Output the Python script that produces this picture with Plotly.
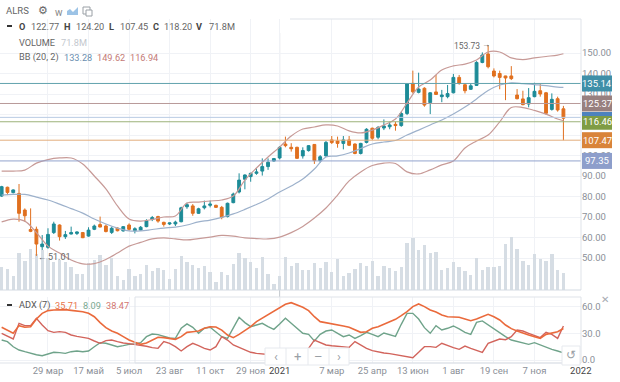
import pandas as pd
import plotly.graph_objects as go

W, H = 620, 382

opens = [80.2,84.5,81.9,81.5,73.4,63.9,64,55.5,55.2,62.4,66.1,60.4,61.7,62.0,62.4,60.7,64,66.3,65.6,62.5,64.6,63.2,66.1,63.3,63.6,65.3,68.9,70.2,67.4,66.6,66.6,67.7,75,75.4,71.8,74.5,75.7,75.7,74.7,70.2,77,82.2,88.4,89.7,91.3,92.4,94.6,97.3,98.8,105.6,104,104,99.8,102.4,105.4,97.5,99.8,107.6,107.1,105.9,107.6,105.6,101,106.4,113.3,108.9,113.4,114,115.2,114.6,120.5,135.2,130.8,132.8,125.8,131,128.7,128.7,130.6,138.1,134.5,132.3,134.2,145.4,149.5,141.2,140,138.8,138.8,129.5,127.6,125.1,128.7,131.6,130.6,122.5,127.7,122.77]
highs = [85.2,84.8,83.5,86.1,74.2,74.2,65.3,61.2,64.5,67.7,66.4,63.2,65.3,63,62.7,65,66.3,70.2,66.3,65.3,65,65.6,66.9,65,65.6,68.9,70.5,70.6,67.7,67.2,68.2,75,77,76.3,74.5,78,78,76,75.4,77,81.9,91.3,90.8,91.6,93.7,98.6,98.6,98.8,104.6,109.2,106,104.3,104,105.1,105.6,100.2,107.1,109.5,109.2,109.5,109.5,105.9,106.2,113.3,113.6,114.4,117.6,116.5,116.5,121.4,135.2,141.4,140.4,133.3,130.9,139.3,132,134.4,139.8,139.3,135.2,135.2,146,150.3,153.73,142.5,141.4,138.9,143.6,132.4,131.6,132.9,135.5,135.2,131,130.3,128.7,124.2]
lows = [79.8,80.7,81.5,67.7,67.7,62.6,51.01,53.9,54.5,61.7,58.5,59.3,61.5,61.2,59.7,60.4,63.6,65,62.5,61.7,63,62.9,63.3,62,63.3,65,68,67.2,65.3,66.1,65.6,67.4,74,70.6,71.5,73.7,74.7,74.4,68.9,69.8,76.7,81.5,83.5,87.2,90.6,90.2,93,97,98.1,104,101.9,98.5,98.5,101.9,95.9,96.5,99.4,105.6,103.8,103,104.6,100.6,100.5,105.9,107.6,107.9,112.4,112.8,112.1,114,119.7,130.3,130.3,123.8,120.2,129.5,126,127.9,130.3,134.5,130.3,132,133.9,145,142.5,138.1,132.3,127,136.8,127.4,124.5,123.5,128.4,128.7,119.9,121.9,121.4,107.45]
closes = [84.8,82.0,83.2,71.8,70.6,63.0,56.8,56.8,61.5,66.6,60.4,61.4,62.4,62.7,59.9,63.6,65.6,65.1,62.9,64.5,63.3,65.3,64,64.3,65,68.2,69.7,68,66.4,67.1,67.5,74.5,76,71.8,74,75.4,76.3,74.7,69.8,76.7,81.2,88,90.5,91.3,92,94.6,96.7,98.5,104,104.8,103.3,98.6,102.4,104.8,97.5,99.4,106.4,106.3,105.9,107.6,105,101,105.9,112.8,108.4,113.7,114.4,114.9,114.6,120.5,134.9,131.1,132.4,124.6,130.6,129.8,129.5,130.2,138.1,135.2,131.6,134,145.4,149,143.3,138.8,138.1,137.8,137.5,127.7,124.8,128.2,131.3,130,120.6,127.4,122.2,118.2]
volumes = [99,89,59,158,123,175,152,169,134,117,127,117,96,70,68,113,127,148,106,134,61,42,89,61,68,106,80,92,83,45,90,144,117,107,94,103,75,35,76,63,111,155,135,117,93,141,68,25,59,141,102,116,85,85,114,94,117,76,130,61,71,90,114,102,124,61,100,93,79,96,200,219,169,190,158,161,86,93,117,96,80,62,137,86,99,99,103,195,226,173,124,104,151,133,125,152,86,71.8]

bb_weeks = list(range(0, 98, 2)) + [97]
bb_upper = [92.4,92.4,92.9,96.3,98.0,98.8,98.8,95.9,90.0,83.7,75.4,69.0,68.0,68.8,70.0,70.5,76.8,77.3,77.8,78.3,80.2,88.0,93.9,99.3,104.1,109.5,112.9,113.9,114.9,114.4,112.0,111.0,112.4,114.9,117.8,125.6,133.4,136.8,141.7,143.7,144.6,146.6,150.5,150.5,147.6,146.8,147.6,148.3,149.0,149.62]
bb_middle = [80.7,81.0,81.0,79.7,78.3,76.3,74.1,71.9,69.0,66.6,64.6,63.2,63.2,63.9,64.6,65.1,66.1,67.6,68.5,69.8,71.5,73.7,76.1,78.8,82.2,85.1,88.5,93.4,99.3,99.8,101.2,103.4,105.6,106.6,107.3,110.0,112.4,114.9,117.3,120.2,123.6,127.6,131.7,134.4,135.4,135.1,134.6,134.1,133.4,133.28]
bb_lower = [67.6,69.0,68.0,62.4,55.8,52.4,49.0,47.1,47.3,49.3,52.4,55.8,57.6,59.3,59.8,59.3,58.8,59.5,60.2,61.0,60.7,59.8,59.5,59.3,60.2,62.4,65.4,69.5,74.4,80.7,87.6,92.0,95.1,96.3,96.1,92.0,91.0,93.0,95.4,97.3,103.7,107.1,110.0,116.4,123.4,123.4,122.0,120.2,117.8,116.94]

adx_line = [37,34,30.2,38.9,37,37.7,46.4,52.8,55.9,56.6,57,57,56.2,55.5,54.7,52.8,49,42.3,36.6,32.8,30.2,26.4,22.6,20,17.7,19.2,22.6,25.7,25.3,24.5,23.4,26.4,31.3,32,32.8,35.9,37.7,37.4,33.9,28.3,25.3,29,33.6,37.7,43.4,47.2,51,54.7,58.5,63,64.9,62.3,59.6,55.9,49,43.4,42.3,41.5,39.6,38.5,37,34,31.3,32,35.9,37.7,40.4,43,46,50.2,54.7,60.4,63.4,60.4,56.6,54.3,51,49,48.7,48.3,46.4,44.5,46.4,49,51.7,49,45.3,39.6,35.5,32.8,30.2,28.3,26.4,24.5,29,30.5,32,35.71]
di_plus = [22.6,20.8,15,11.3,9.4,7.5,6,4.9,6.8,8.7,8.3,7.5,9.4,10.2,9.4,10.2,15,19.6,18.9,17,15,16.2,17.7,18.1,19.6,26.4,29.4,28.7,26.4,24.9,24.5,35.9,40.8,37,30.2,35.9,37,32.1,26.4,24.5,35.9,48.3,42.3,37.7,39.6,41.5,37.7,34.7,40.8,47.2,41.5,35.9,30.2,29,21.5,29,32.8,34,30.2,26.4,28.3,24.5,27.5,31.3,29,26.4,30.6,28.3,26.8,40.4,52.8,52.8,46.4,36.6,30.2,38.9,34,35.9,38.5,35.1,31.3,29,42.6,44.2,39.6,34.7,30.9,26.4,22.6,20.8,18.9,17.7,19.6,17,14.3,12,10.2,8.09]
di_minus = [30.2,26.8,23.8,41.5,38.9,38.9,47.2,39.6,33.2,31.3,32.1,31.3,28.3,26.8,26,24.5,21.5,18.9,21.9,22.6,20.8,19.2,18.5,17.7,17,15.5,14,13.2,20.8,18.9,15.1,10.2,15.1,18.9,16.2,13.2,11.3,15.1,26.4,22.6,17,14,11.3,8.7,7.5,6.8,6.4,5.6,6.4,7.5,6.4,4.9,5.6,13.2,22.6,19.6,17,16.2,15.5,15.1,14.3,20.8,17,13.2,10.6,9,7.9,7.2,6,4.9,3.8,2.6,8.7,15.1,15.1,14.3,18.9,16.2,14,12.1,15.8,13.2,11.3,8.7,18.9,21.5,23.8,23,26.4,34,32.8,30.2,27.5,25.3,31.3,29,24.5,38.47]

price_levels = [135.14, 125.37, 118.6, 116.46, 107.47, 97.35]
level_colors = ["#62a3ad", "#b99a99", "#b9cbe4", "#9db27a", "#e3ad7c", "#93a3cd"]
tag_values = [135.14, 125.37, 116.46, 107.47, 97.35]
tag_colors = ["#3f8fa8", "#98807f", "#7f9c45", "#d9843a", "#8d9ecb"]

date_ticks = ["2020-03-29","2020-05-17","2020-07-05","2020-08-23","2020-10-11","2020-11-29","2021-01-03","2021-03-07","2021-04-25","2021-06-13","2021-08-01","2021-09-19","2021-11-07","2022-01-02"]
date_labels = ["29 мар","17 май","5 июл","23 авг","11 окт","29 ноя","<span style='color:#444'>2021</span>","7 мар","25 апр","13 июн","1 авг","19 сен","7 ноя","<span style='color:#444'>2022</span>"]
price_ticks = [50,60,70,80,90,100,110,120,130,140,150]
price_labels = ["50.00","60.00","70.00","80.00","90.00","100.00","","","130.00","140.00","150.00"]
adx_ticks = [0,30,60]

weeks = pd.date_range("2020-02-02", periods=len(closes), freq="7D")
bb_dates = [weeks[i] for i in bb_weeks]

GRID = "#f0f2f6"
FRAME = "#dfe3e9"
TICK = "#8b9098"
TEAL = "#1d8b97"
ORANGE = "#e0701f"

fig = go.Figure()
fig.add_trace(go.Bar(x=weeks, y=volumes, yaxis="y3", marker=dict(color="#d6dde4", line=dict(width=0)),
                     width=7*24*3600*1000*0.58, showlegend=False, hoverinfo="skip"))
fig.add_trace(go.Scatter(x=bb_dates, y=bb_upper, yaxis="y", mode="lines", line=dict(color="#c79a97", width=1.2, shape="spline"), showlegend=False))
fig.add_trace(go.Scatter(x=bb_dates, y=bb_lower, yaxis="y", mode="lines", line=dict(color="#c79a97", width=1.2, shape="spline"), showlegend=False))
fig.add_trace(go.Scatter(x=bb_dates, y=bb_middle, yaxis="y", mode="lines", line=dict(color="#9db1cb", width=1.2, shape="spline"), showlegend=False))
fig.add_trace(go.Candlestick(x=weeks, open=opens, high=highs, low=lows, close=closes, yaxis="y", whiskerwidth=0,
                             increasing=dict(line=dict(color=TEAL, width=1), fillcolor=TEAL),
                             decreasing=dict(line=dict(color=ORANGE, width=1), fillcolor=ORANGE),
                             showlegend=False))
fig.add_trace(go.Scatter(x=weeks, y=di_plus, yaxis="y2", mode="lines", line=dict(color="#6fa38a", width=1.4), showlegend=False))
fig.add_trace(go.Scatter(x=weeks, y=di_minus, yaxis="y2", mode="lines", line=dict(color="#d2645c", width=1.4), showlegend=False))
fig.add_trace(go.Scatter(x=weeks, y=adx_line, yaxis="y2", mode="lines", line=dict(color="#ea6a3c", width=1.6), showlegend=False))


def fx(px):
    return px / W


def fy(py):
    return 1 - py / H


def note(px, py, text, size=9.5, color="#555", anchor="left", bg=None):
    fig.add_annotation(xref="paper", yref="paper", x=fx(px), y=fy(py), text=text, showarrow=False,
                       xanchor=anchor, yanchor="middle", font=dict(family="Roboto, Open Sans, sans-serif", size=size, color=color),
                       bgcolor=bg, borderpad=0)


def rect(x0, y0, x1, y1, fill="white", line="#e6e9ee", lw=1):
    fig.add_shape(type="rect", xref="paper", yref="paper", x0=fx(x0), x1=fx(x1), y0=fy(y1), y1=fy(y0),
                  fillcolor=fill, line=dict(color=line, width=lw), layer="above")


# price levels across the main pane
for v, c in zip(price_levels, level_colors):
    fig.add_shape(type="line", xref="paper", yref="y", x0=0, x1=fx(581), y0=v, y1=v, line=dict(color=c, width=1), layer="above")

# the year divider
fig.add_shape(type="line", xref="x", yref="paper", x0=date_ticks[6], x1=date_ticks[6], y0=fy(363), y1=fy(33),
              line=dict(color="#c3c8ce", width=1), layer="below")

# frames
fig.add_shape(type="line", xref="paper", yref="paper", x0=fx(290), x1=fx(581), y0=fy(19), y1=fy(19), line=dict(color=FRAME, width=1))
fig.add_shape(type="line", xref="paper", yref="paper", x0=fx(581), x1=fx(581), y0=fy(290), y1=fy(19), line=dict(color=FRAME, width=1))
fig.add_shape(type="line", xref="paper", yref="paper", x0=0, x1=fx(581), y0=fy(290), y1=fy(290), line=dict(color="#d3dae2", width=1))
fig.add_shape(type="rect", xref="paper", yref="paper", x0=fx(135), x1=fx(581), y0=fy(363), y1=fy(297), line=dict(color=FRAME, width=1))
fig.add_shape(type="line", xref="paper", yref="paper", x0=0, x1=fx(581), y0=fy(363), y1=fy(363), line=dict(color=FRAME, width=1))

# price tags
for v, c in zip(tag_values, tag_colors):
    y = 53 + (150 - v) * 2.05
    rect(582, y - 8, 612, y + 8, fill=c, line=c, lw=0)
    note(597, y, f"{v:.2f}", size=9.5, color="white", anchor="center")
rect(582, 112, 612, 116, fill="#4d82bd", line="#4d82bd", lw=0)

# header
note(5, 11, "ALRS", size=9.5, color="#666")
note(37, 11, "⚙", size=11, color="#666")
note(54, 12, "w", size=10, color="#888")
fig.add_shape(type="path", xref="paper", yref="paper", layer="above",
              path=f"M {fx(67)} {fy(15)} L {fx(67)} {fy(11)} L {fx(70)} {fy(9)} L {fx(73)} {fy(12)} L {fx(75)} {fy(10)} L {fx(78)} {fy(7)} L {fx(78)} {fy(15)} Z",
              fillcolor="#9cc3e6", line=dict(width=0))
rect(83, 7, 90, 14, fill="white", line="#9aa0a6", lw=1)
rect(86, 10, 92, 16, fill="white", line="#9aa0a6", lw=1)

# OHLC legend
fig.add_shape(type="line", xref="paper", yref="paper", x0=fx(7), x1=fx(12), y0=fy(26), y1=fy(26), line=dict(color="#333", width=2))
for px, label, val, vx in [(18, "O", "122.77", 30), (63, "H", "124.20", 75), (108, "L", "107.45", 119), (152, "C", "118.20", 163), (195, "V", "71.8M", 208)]:
    note(px, 26, f"<b>{label}</b>", size=9.2, color="#444")
    note(vx, 26, val, size=9.2, color="#666")
note(18, 42, "VOLUME", size=9.2, color="#666")
note(60, 42, "71.8M", size=9.2, color="#c3c8ce")
note(18, 57, "BB (20, 2)", size=9.2, color="#666")
note(63, 57, "133.28", size=9.2, color="#6a8fb0")
note(96, 57, "149.62", size=9.2, color="#c47a76")
note(129, 57, "116.94", size=9.2, color="#c47a76")

note(453, 46, "153.73", size=8.5, color="#666")
note(481, 45, "→", size=8, color="#444")
note(37, 257, "←", size=8, color="#444")
note(47, 257, "51.01", size=9, color="#666")

# ADX legend
fig.add_shape(type="line", xref="paper", yref="paper", x0=fx(7), x1=fx(12), y0=fy(305), y1=fy(305), line=dict(color="#333", width=2))
note(18, 305, "ADX (7)", size=9.2, color="#555")
note(54, 305, "35.71", size=9.2, color="#e8744a")
note(82, 305, "8.09", size=9.2, color="#79a890")
note(105, 305, "38.47", size=9.2, color="#d2756e")

# pan buttons
rect(265, 348, 349, 365)
for d in (286, 308, 329):
    fig.add_shape(type="line", xref="paper", yref="paper", x0=fx(d), x1=fx(d), y0=fy(365), y1=fy(348), line=dict(color="#e6e9ee", width=1), layer="above")
for px, t in [(275.5, "‹"), (297, "+"), (318.5, "–"), (339, "›")]:
    note(px, 356, t, size=13, color="#9aa0a6", anchor="center")
rect(562, 346, 580, 365)
note(571, 355, "↺", size=12, color="#9aa0a6", anchor="center")
note(605, 299, "✕", size=10, color="#a6abb2", anchor="center")

xdom = [0, fx(581)]
fig.update_layout(
    width=W, height=H, autosize=False, margin=dict(l=0, r=0, t=0, b=0),
    paper_bgcolor="white", plot_bgcolor="white", showlegend=False, bargap=0,
    font=dict(family="Roboto, Open Sans, sans-serif", size=9.5, color=TICK),
    xaxis=dict(domain=xdom, type="date", range=["2020-01-31", "2022-01-02 06:00"], anchor="y2", automargin=False,
               tickmode="array", tickvals=date_ticks, ticktext=date_labels, tickangle=0,
               showgrid=True, gridcolor=GRID, gridwidth=1, zeroline=False, showline=False, ticks="",
               rangeslider=dict(visible=False), tickfont=dict(size=9.5, color=TICK)),
    yaxis3=dict(domain=[fy(290), fy(19)], range=[0, 1150], visible=False, anchor="x", automargin=False),
    yaxis=dict(domain=[fy(290), fy(19)], overlaying="y3", range=[150 - (290 - 53) / 2.05, 150 + (53 - 19) / 2.05],
               side="right", anchor="free", position=fx(581), tickmode="array", tickvals=price_ticks, automargin=False,
               ticktext=price_labels, showgrid=True, gridcolor=GRID, zeroline=False,
               showline=False, ticks="", tickfont=dict(size=9.5, color=TICK)),
    yaxis2=dict(domain=[fy(363), fy(297)], range=[-3.4, 71.3], side="right", anchor="free", position=fx(581), automargin=False,
                tickmode="array", tickvals=adx_ticks, ticktext=[f"{v:.1f}" for v in adx_ticks],
                showgrid=True, gridcolor=GRID, zeroline=False, showline=False, ticks="",
                tickfont=dict(size=9.5, color=TICK)),
)

fig.write_html("out.html", config=dict(displayModeBar=False), post_script="document.body.style.margin='0';")
